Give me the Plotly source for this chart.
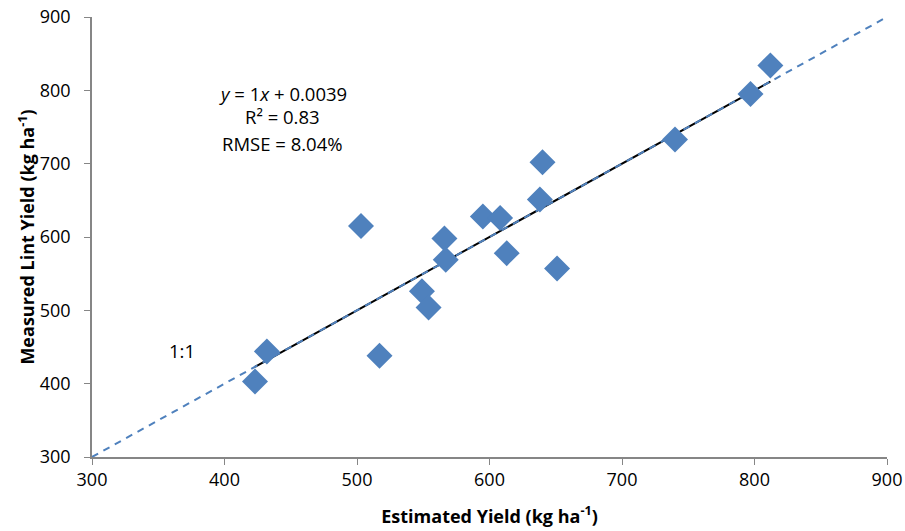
import plotly.graph_objects as go

estimated = [423, 432, 503, 517, 549, 554, 566, 567, 595, 608, 613, 638, 640, 651, 740, 797, 812]
measured = [403, 444, 615, 438, 526, 504, 598, 569, 628, 626, 578, 651, 702, 557, 733, 795, 834]
one_to_one = [300, 900]
slope, intercept = 1.0, 0.0039
x_ticks = [300, 400, 500, 600, 700, 800, 900]
y_ticks = [300, 400, 500, 600, 700, 800, 900]

FONT = "Open Sans, sans-serif"
BLUE = "#4F81BD"

fig = go.Figure()
xr = [min(estimated), max(estimated)]
fig.add_trace(go.Scatter(x=xr, y=[slope * v + intercept for v in xr], mode="lines",
                         line=dict(color="black", width=2), showlegend=False))
fig.add_trace(go.Scatter(x=one_to_one, y=one_to_one, mode="lines",
                         line=dict(color=BLUE, width=2, dash="7px,6px"), showlegend=False))
fig.add_trace(go.Scatter(x=estimated, y=measured, mode="markers",
                         marker=dict(symbol="diamond", size=20, color=BLUE,
                                     line=dict(width=0)), showlegend=False))

ann_font = dict(family=FONT, size=18.5, color="black")
fig.add_annotation(x=444, y=796, text="<i>y</i> = 1<i>x</i> + 0.0039", showarrow=False, font=ann_font)
fig.add_annotation(x=444, y=764, text="R² = 0.83", showarrow=False, font=ann_font)
fig.add_annotation(x=444, y=728, text="RMSE = 8.04%", showarrow=False, font=ann_font)
fig.add_annotation(x=368, y=445, text="1:1", showarrow=False, font=ann_font)

axis_common = dict(showgrid=False, zeroline=False, showline=True, linecolor="#868686",
                   linewidth=1.5, ticks="outside", tickcolor="#868686", ticklen=6,
                   ticklabeloverflow="allow",
                   tickfont=dict(family=FONT, size=18, color="black"))
fig.update_xaxes(range=[300, 900], tickvals=x_ticks, **axis_common,
                 title=dict(text="<b>Estimated Yield (kg ha<sup>-1</sup>)</b>",
                            font=dict(family=FONT, size=18, color="black"), standoff=20))
fig.update_yaxes(range=[300, 900], tickvals=y_ticks, **axis_common, ticklabelstandoff=10,
                 title=dict(text="<b>Measured Lint Yield (kg ha<sup>-1</sup>)</b>",
                            font=dict(family=FONT, size=18, color="black"), standoff=0))
fig.update_layout(width=905, height=531,
                  margin=dict(l=92, r=18, t=17, b=74, autoexpand=False),
                  plot_bgcolor="white", paper_bgcolor="white")
fig.write_html("out.html", config={"displayModeBar": False},
               post_script="document.body.style.margin='0px';")
